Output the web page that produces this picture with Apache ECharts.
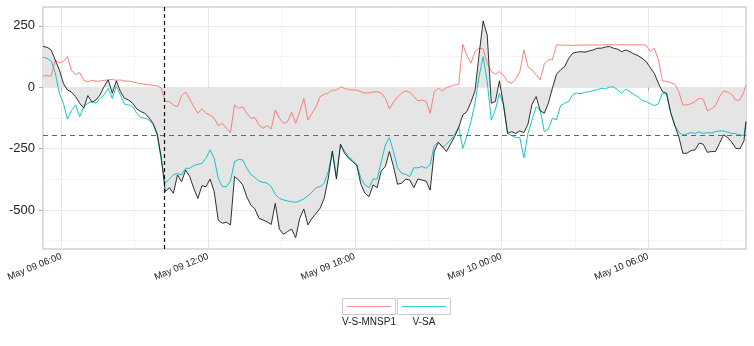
<!DOCTYPE html>
<html><head><meta charset="utf-8">
<script src="https://cdn.jsdelivr.net/npm/echarts@6/dist/echarts.min.js"></script>
<style>html,body{margin:0;padding:0;background:#fff}#c{width:754px;height:346px}</style>
</head><body><div id="c"></div>
<script>
// time in hours since May 09 00:00; one reading every 10 minutes, last reading at the end hour
const startHour = 5.25, stepHour = 1 / 6, endHour = 34;

const mnsp1 = [
  45, 48, 45, 110, 100, 105, 125, 68, 52, 60, 28, 22, 28, 25, 25, 28, 30, 32, 28, 30, 25, 25, 22, 18, 15, 12, 10, 8, 5, -2,
  -58, -58, -72, -79, -34, -20, -48, -79, -106, -88, -106, -113, -126, -156, -147, -167, -185, -72, -86, -79, -106, -126, -124, -154, -167, -156, -170, -92, -126,
  -147, -140, -102, -147, -99, -45, -133, -106, -79, -38, -29, -23, -12, -11, 1, -4, -10, -11, -12, -18, -24, -23, -20, -18, -24, -45, -88, -61, -40,
  -24, -15, -20, -38, -56, -52, -58, -106, -18, -4, -15, -1, 3, 10, 12, 175, 130, 98, 145, 159, 156, 98, 64, 53, 64, 48, 23, 16, 35,
  63, 152, 83, 70, 50, 30, 95, 112, 112, 172, 172, 171, 172, 170, 172, 171, 172, 172, 173, 172, 173, 173, 174, 173, 173, 174, 173, 173, 173,
  173, 173, 171, 145, 159, 111, 26, 24, 19, 12, -18, -72, -72, -67, -58, -45, -48, -96, -88, -75, -38, -15, -20, -29, -53, -52, -18,
  10
];
const vsa = [
  122, 118, 107, 60, -24, -65, -130, -95, -72, -120, -79, -65, -58, -65, -45, -31, -4, -45, 3, -31, -69, -72, -79, -106, -124, -126, -133, -151, -194, -295,
  -391, -374, -357, -351, -357, -330, -330, -319, -314, -310, -289, -255, -289, -371, -405, -405, -382, -303, -294, -296, -330, -355, -368, -382, -387, -391, -405, -436, -453,
  -459, -463, -466, -469, -463, -455, -442, -428, -409, -405, -391, -344, -262, -368, -235, -260, -283, -298, -314, -371, -398, -409, -374, -374, -303, -235, -205, -262, -328,
  -351, -355, -364, -328, -328, -323, -330, -314, -238, -224, -246, -232, -215, -194, -160, -249, -200, -140, -65, 43, 125, 23, -133, -92, -24, -72, -188, -197, -205,
  -205, -287, -188, -133, -79, -92, -181, -170, -126, -133, -75, -65, -58, -29, -24, -26, -20, -18, -14, -10, -4, -7, 1, 1, -10, -24, -7, -18, -29,
  -39, -54, -58, -67, -75, -67, -24, -29, -102, -154, -183, -194, -190, -185, -188, -182, -188, -185, -186, -181, -178, -178, -183, -188, -189, -194, -197,
  -140
];
const total = [
  166, 163, 152, 111, 71, 16, -11, -20, -38, -65, -85, -34, -61, -52, -31, 3, 30, -24, 26, -18, -45, -52, -65, -88, -99, -106, -124, -147, -188, -285,
  -425, -409, -432, -357, -385, -337, -364, -412, -453, -401, -405, -374, -425, -541, -554, -550, -561, -364, -378, -398, -446, -480, -496, -534, -541, -548, -559, -473, -578,
  -599, -588, -578, -613, -534, -496, -561, -534, -514, -493, -453, -371, -260, -374, -232, -269, -289, -303, -319, -395, -432, -446, -398, -409, -341, -323, -262, -323, -395,
  -391, -374, -378, -409, -374, -378, -382, -419, -262, -224, -242, -262, -232, -201, -164, -113, -99, -61, -15, 132, 270, 213, -65, -58, 26, -72, -188, -181, -188,
  -178, -185, -150, -69, -38, -96, -106, -65, -4, 53, 71, 84, 118, 139, 143, 145, 143, 148, 152, 159, 159, 164, 166, 159, 155, 145, 152, 145, 136,
  129, 118, 105, 80, 57, 16, -18, -24, -102, -154, -201, -269, -269, -258, -255, -228, -232, -265, -262, -262, -228, -194, -205, -224, -249, -251, -219,
  -140
];

const xTickHours = [6, 12, 18, 24, 30];
const xTickLabels = ['May 09 06:00', 'May 09 12:00', 'May 09 18:00', 'May 10 00:00', 'May 10 06:00'];
const xMinorHours = [9, 15, 21, 27, 33];
const yTicks = [-500, -250, 0, 250];
const yMinorTicks = [-625, -375, -125, 125];
const yMin = -659, yMax = 327;
const hLineValue = -195;
const vLineHour = 10.2;
const seriesNames = ['V-S-MNSP1', 'V-SA'];
const seriesColors = ['#F8766D', '#00BFC4'];

function toXY(vals) {
  return vals.map((v, i) => [i === vals.length - 1 ? endHour : startHour + i * stepHour, v]);
}

const font = '"Liberation Sans", Arial, sans-serif';
const chart = echarts.init(document.getElementById('c'), null, { renderer: 'canvas' });

const option = {
  animation: false,
  grid: { left: 43, top: 7, width: 703, height: 242, show: true, borderColor: '#b8b8b8', borderWidth: 1, backgroundColor: 'transparent', containLabel: false, outerBoundsMode: 'none' },
  xAxis: [
    {
      type: 'value', min: startHour, max: endHour,
      axisLine: { show: false },
      axisTick: { show: true, customValues: xTickHours, length: 4, lineStyle: { color: '#b0b0b0' } },
      axisLabel: {
        customValues: xTickHours,
        formatter: v => { const i = xTickHours.indexOf(v); return i >= 0 ? xTickLabels[i] : ''; },
        rotate: 22, fontSize: 9.5, color: '#222', fontFamily: font, margin: 7
      },
      splitLine: { show: true, lineStyle: { color: '#e8e8e8', width: 1 } }
    },
    {
      type: 'value', min: startHour, max: endHour, position: 'bottom',
      axisLine: { show: false },
      axisTick: { show: false, customValues: xMinorHours },
      axisLabel: { show: false },
      splitLine: { show: true, lineStyle: { color: '#f4f4f4', width: 1 } }
    }
  ],
  yAxis: [
    {
      type: 'value', min: yMin, max: yMax,
      axisLine: { show: false },
      axisTick: { show: true, customValues: yTicks, length: 4, lineStyle: { color: '#b0b0b0' } },
      axisLabel: { customValues: yTicks, fontSize: 13, color: '#222', fontFamily: font, margin: 8 },
      splitLine: { show: true, lineStyle: { color: '#e8e8e8', width: 1 } }
    },
    {
      type: 'value', min: yMin, max: yMax, position: 'left',
      axisLine: { show: false },
      axisTick: { show: false, customValues: yMinorTicks },
      axisLabel: { show: false },
      splitLine: { show: true, lineStyle: { color: '#f4f4f4', width: 1 } }
    }
  ],
  series: [
    {
      type: 'line', data: toXY(total), symbol: 'none', silent: true, z: 1,
      lineStyle: { width: 0, opacity: 0 },
      areaStyle: { color: '#e5e5e5', opacity: 1, origin: 0 }
    },
    {
      name: seriesNames[0], type: 'line', data: toXY(mnsp1), symbol: 'none', z: 3,
      lineStyle: { color: seriesColors[0], width: 1, opacity: 0.9 }
    },
    {
      name: seriesNames[1], type: 'line', data: toXY(vsa), symbol: 'none', z: 3,
      lineStyle: { color: seriesColors[1], width: 1, opacity: 0.9 }
    },
    {
      type: 'line', data: toXY(total), symbol: 'none', z: 4,
      lineStyle: { color: '#1a1a1a', width: 0.9 },
      markLine: {
        symbol: ['none', 'none'], silent: true, label: { show: false }, animation: false,
        data: [
          { yAxis: hLineValue, lineStyle: { type: [5, 4], color: '#666', width: 1 } },
          { xAxis: vLineHour, lineStyle: { type: [4, 3], color: '#111', width: 1.2 } }
        ]
      }
    }
  ],
  graphic: [
    { type: 'rect', shape: { x: 342.5, y: 298.5, width: 53, height: 16 }, style: { fill: '#fff', stroke: '#cccccc', lineWidth: 1 } },
    { type: 'line', shape: { x1: 347, y1: 306.5, x2: 391, y2: 306.5 }, style: { stroke: seriesColors[0], lineWidth: 1.2, opacity: 0.8 } },
    { type: 'text', x: 369, y: 322, style: { text: seriesNames[0], font: '10px ' + font, fill: '#222', align: 'center', verticalAlign: 'middle' } },
    { type: 'rect', shape: { x: 397.5, y: 298.5, width: 53, height: 16 }, style: { fill: '#fff', stroke: '#cccccc', lineWidth: 1 } },
    { type: 'line', shape: { x1: 402, y1: 306.5, x2: 446, y2: 306.5 }, style: { stroke: seriesColors[1], lineWidth: 1.2, opacity: 0.8 } },
    { type: 'text', x: 424, y: 322, style: { text: seriesNames[1], font: '10px ' + font, fill: '#222', align: 'center', verticalAlign: 'middle' } }
  ]
};
chart.setOption(option);
</script>
</body></html>
